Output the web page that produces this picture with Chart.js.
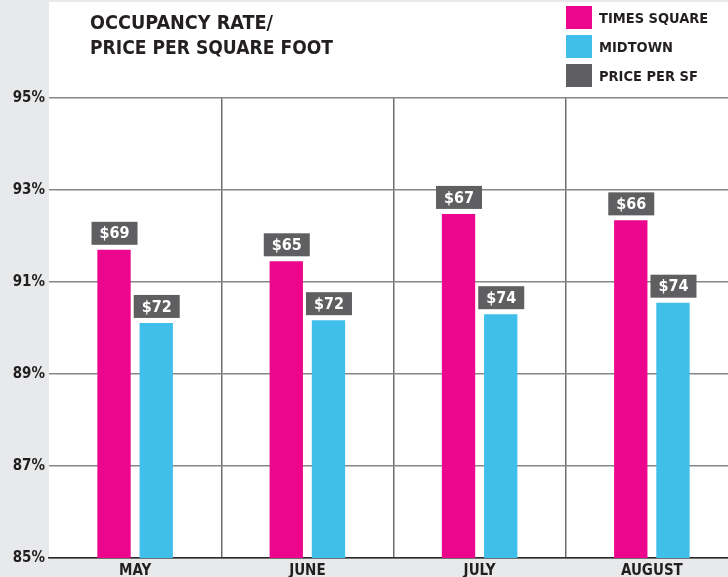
<!DOCTYPE html>
<html>
<head>
<meta charset="utf-8">
<script src="https://cdn.jsdelivr.net/npm/chart.js@4"></script>
<style>
  html, body { margin: 0; padding: 0; overflow: hidden; background: #e8e9eb; }
  #wrap { width: 740px; height: 577px; }
</style>
</head>
<body>
<div id="wrap"><canvas id="grafico" width="740" height="577"></canvas></div>
<script>
const meses = ['MAY', 'JUNE', 'JULY', 'AUGUST'];
const timesSquare = [91.70, 91.45, 92.48, 92.34];
const midtown = [90.11, 90.17, 90.30, 90.55];
const precoTimesSquare = [69, 65, 67, 66];
const precoMidtown = [72, 72, 74, 74];
const tituloLinhas = ['OCCUPANCY RATE/', 'PRICE PER SQUARE FOOT'];
const legendaItens = ['TIMES SQUARE', 'MIDTOWN', 'PRICE PER SF'];
const yTicks = [85, 87, 89, 91, 93, 95];

const ROSA = '#ec068d';
const AZUL = '#3fbfea';
const CINZA = '#5f5f61';
const FONTE = '"DejaVu Sans Condensed", "DejaVu Sans", "Liberation Sans", sans-serif';

// texto "condensado": encolhe na horizontal para caber na largura alvo
function textoCondensado(ctx, txt, x, y, largura) {
  const w = ctx.measureText(txt).width;
  const sx = Math.min(1, largura / w);
  ctx.save();
  ctx.translate(x, y);
  ctx.scale(sx, 1);
  ctx.fillText(txt, 0, 0);
  ctx.restore();
}

const fundo = {
  id: 'fundo',
  beforeDraw(chart) {
    const { ctx, chartArea, width, height } = chart;
    ctx.save();
    ctx.fillStyle = '#e8e9eb';
    ctx.fillRect(0, 0, width, height);
    ctx.fillStyle = '#ffffff';
    ctx.fillRect(chartArea.left, 2, width - chartArea.left, chartArea.bottom - 2);
    ctx.restore();
  }
};

const cabecalho = {
  id: 'cabecalho',
  afterDraw(chart) {
    const { ctx } = chart;
    ctx.save();
    ctx.fillStyle = '#231f20';
    ctx.textBaseline = 'alphabetic';
    ctx.textAlign = 'left';
    ctx.font = `bold 20px ${FONTE}`;
    textoCondensado(ctx, tituloLinhas[0], 90, 29, 183);
    textoCondensado(ctx, tituloLinhas[1], 90, 54, 243);

    const cores = [ROSA, AZUL, CINZA];
    const larguras = [113, 86, 105];
    ctx.font = `bold 14.5px ${FONTE}`;
    legendaItens.forEach((txt, i) => {
      const y0 = 6 + i * 29;
      ctx.fillStyle = cores[i];
      ctx.fillRect(566, y0, 26, 23);
      ctx.fillStyle = '#231f20';
      textoCondensado(ctx, txt, 599, y0 + 17, larguras[i]);
    });
    ctx.restore();
  }
};

const etiquetasPreco = {
  id: 'etiquetasPreco',
  afterDatasetsDraw(chart) {
    const { ctx } = chart;
    const precos = [precoTimesSquare, precoMidtown];
    ctx.save();
    ctx.font = `bold 16px ${FONTE}`;
    ctx.textAlign = 'center';
    ctx.textBaseline = 'middle';
    precos.forEach((lista, ds) => {
      chart.getDatasetMeta(ds).data.forEach((bar, i) => {
        const txt = '$' + lista[i];
        const w = 46, h = 23;
        const bx = bar.x - w / 2 + 0.5;
        const by = bar.y - 5 - h;
        ctx.fillStyle = CINZA;
        ctx.fillRect(bx, by, w, h);
        ctx.fillStyle = '#ffffff';
        ctx.fillText(txt, bar.x + 0.5, by + h / 2 + 1);
      });
    });
    ctx.restore();
  }
};

new Chart(document.getElementById('grafico'), {
  type: 'bar',
  data: {
    labels: meses,
    datasets: [
      { label: legendaItens[0], data: timesSquare, backgroundColor: ROSA },
      { label: legendaItens[1], data: midtown, backgroundColor: AZUL }
    ]
  },
  options: {
    responsive: false,
    animation: false,
    layout: { padding: { top: 98, right: 2, left: 0, bottom: 0 } },
    datasets: { bar: { categoryPercentage: 0.49, barPercentage: 0.79 } },
    plugins: {
      legend: { display: false },
      title: { display: false },
      tooltip: { enabled: false }
    },
    scales: {
      x: {
        grid: {
          offset: true,
          drawTicks: false,
          color: ctx => ctx.index === 0 ? 'rgba(0,0,0,0)' : '#6d6d6f',
          lineWidth: 1.5
        },
        border: { display: true, color: '#2b2b2b', width: 1.5 },
        ticks: {
          color: '#231f20',
          font: { family: FONTE, size: 15, weight: 'bold' },
          padding: 4
        },
        afterFit(scale) { scale.height = 19; }
      },
      y: {
        min: 85,
        max: 95,
        afterBuildTicks(scale) { scale.ticks = yTicks.map(v => ({ value: v })); },
        grid: { color: '#868688', lineWidth: 1.5, drawTicks: false },
        border: { display: false },
        ticks: {
          color: '#231f20',
          font: { family: FONTE, size: 15, weight: 'bold' },
          padding: 4,
          callback: v => v + '%'
        },
        afterFit(scale) { scale.width = 49; }
      }
    }
  },
  plugins: [fundo, cabecalho, etiquetasPreco]
});
</script>
</body>
</html>
